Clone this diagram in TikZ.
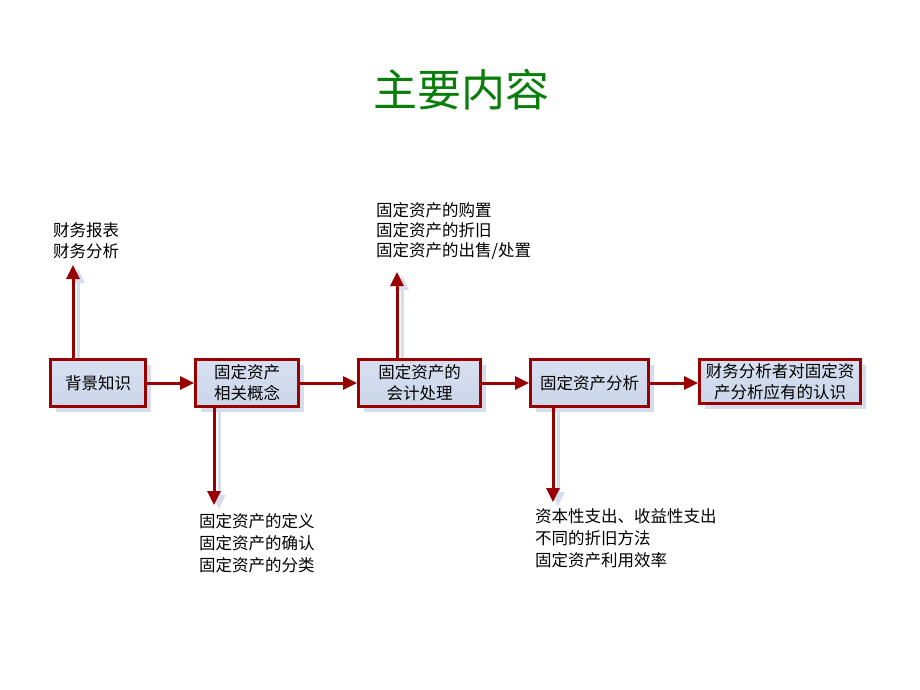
\documentclass[tikz,border=0pt]{standalone}
\usepackage{fontspec}
\setmainfont{Noto Sans CJK SC}
\usetikzlibrary{arrows.meta,shadows}
\definecolor{bord}{HTML}{990000}
\definecolor{boxfill}{HTML}{CBD6EA}
\definecolor{boxfilltop}{HTML}{D8E0F0}
\definecolor{shadowc}{HTML}{D5DCEC}
\definecolor{titlegreen}{HTML}{0A7D0A}
\tikzset{
  stepbox/.style={draw=bord, line width=3pt, top color=boxfilltop, bottom color=boxfill,
    align=center, inner sep=2pt, font=\fontsize{16.5}{21}\selectfont,
    drop shadow={shadow xshift=5pt, shadow yshift=-5pt, fill=shadowc, opacity=1}},
  flow/.style={draw=bord, line width=3pt, -{Triangle[length=14pt,width=13pt]}},
  flowshadow/.style={draw=shadowc, line width=3pt, -{Triangle[length=14pt,width=13pt]}},
  note/.style={anchor=north west, inner sep=0pt, align=left, text=black}
}
\begin{document}
\begin{tikzpicture}[x=1pt,y=-1pt]
\useasboundingbox[fill=white] (0,0) rectangle (920,690);
\node[text=titlegreen, font=\fontsize{44}{48}\selectfont] (title) at (461,90) {主要内容};

\node[stepbox, minimum width=95pt, minimum height=47pt] (b1) at (98,383) {背景知识};
\node[stepbox, minimum width=103pt, minimum height=47pt] (b2) at (247,383) {固定资产\\相关概念};
\node[stepbox, minimum width=122pt, minimum height=47pt] (b3) at (419.5,383) {固定资产的\\会计处理};
\node[stepbox, minimum width=118pt, minimum height=47pt] (b4) at (589.5,383) {固定资产分析};
\node[stepbox, minimum width=161pt, minimum height=44pt, inner sep=1pt] (b5) at (780,381.5) {财务分析者对固定资\\产分析应有的认识};

\coordinate (t1) at (73,265);
\coordinate (t3) at (397,272);
\coordinate (t2) at (214,505);
\coordinate (t4) at (553,502);

% shadows of the branch arrows
\draw[flowshadow] ([shift={(5,0)}]b1.north -| t1) -- ([shift={(5,4)}]t1);
\draw[flowshadow] ([shift={(5,0)}]b3.north -| t3) -- ([shift={(5,4)}]t3);
\draw[flowshadow] ([shift={(5,0)}]b2.south -| t2) -- ([shift={(5,4)}]t2);
\draw[flowshadow] ([shift={(5,0)}]b4.south -| t4) -- ([shift={(5,4)}]t4);

\draw[flow] (b1) -- (b2);
\draw[flow] (b2) -- (b3);
\draw[flow] (b3) -- (b4);
\draw[flow] (b4.east) -- (b5.west |- b4.east);

\draw[flow] (b1.north -| t1) -- (t1);
\draw[flow] (b3.north -| t3) -- (t3);
\draw[flow] (b2.south -| t2) -- (t2);
\draw[flow] (b4.south -| t4) -- (t4);

\node[note, font=\fontsize{16.5}{21}\selectfont] (n1) at (53,222.5) {财务报表\\财务分析};
\node[note, font=\fontsize{16.5}{20}\selectfont] (n3) at (376,202) {固定资产的购置\\固定资产的折旧\\固定资产的出售/处置};
\node[note, font=\fontsize{16.5}{22}\selectfont] (n2) at (199,513) {固定资产的定义\\固定资产的确认\\固定资产的分类};
\node[note, font=\fontsize{16.5}{22}\selectfont] (n4) at (535,508) {资本性支出、收益性支出\\不同的折旧方法\\固定资产利用效率};
\end{tikzpicture}
\end{document}
